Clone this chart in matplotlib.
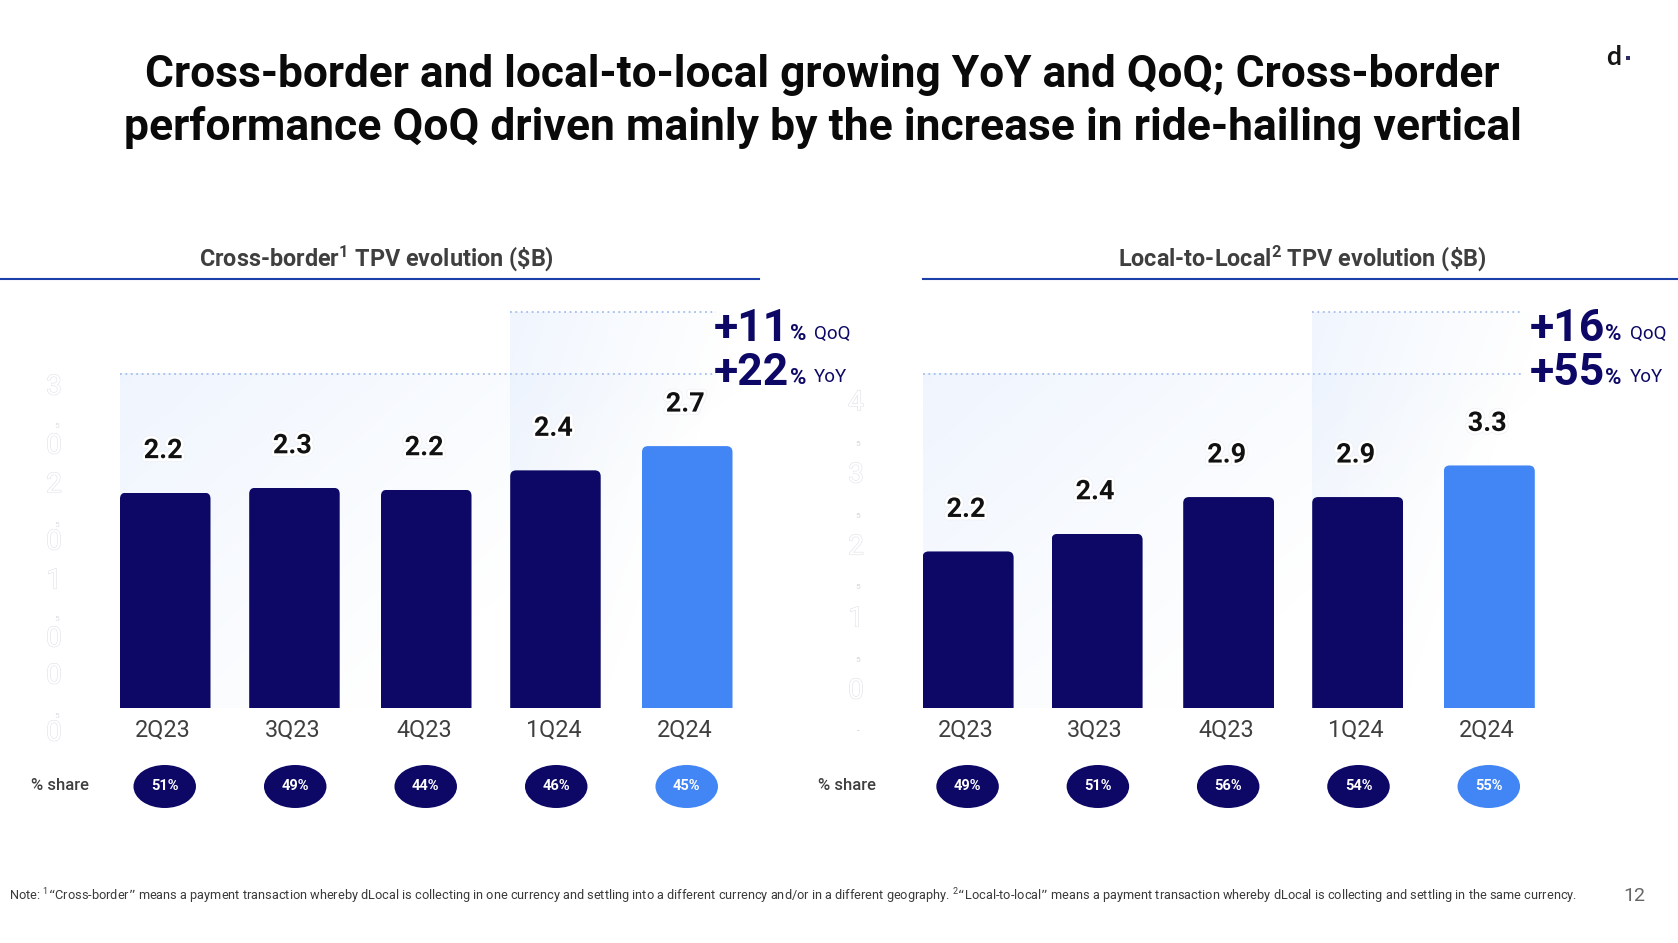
import numpy as np
import matplotlib
matplotlib.use("Agg")
import matplotlib.pyplot as plt
import matplotlib.patheffects as pe
from matplotlib.patches import Ellipse, Rectangle
from matplotlib.path import Path
from matplotlib.transforms import ScaledTranslation

W, H = 1678, 943
plt.rcParams['font.family'] = ['Roboto', 'DejaVu Sans']
plt.rcParams['mathtext.default'] = 'regular'

# ---------- data ----------
quarters = ["2Q23", "3Q23", "4Q23", "1Q24", "2Q24"]
cb_bar_values = [2.22, 2.27, 2.25, 2.45, 2.70]
cb_labels = ["2.2", "2.3", "2.2", "2.4", "2.7"]
cb_share = ["51%", "49%", "44%", "46%", "45%"]
ll_bar_values = [2.13, 2.37, 2.87, 2.87, 3.30]
ll_labels = ["2.2", "2.4", "2.9", "2.9", "3.3"]
ll_share = ["49%", "51%", "56%", "54%", "55%"]
cb_qoq, cb_yoy = "+11", "+22"
ll_qoq, ll_yoy = "+16", "+55"
title_lines = ["Cross-border and local-to-local growing YoY and QoQ; Cross-border",
               "performance QoQ driven mainly by the increase in ride-hailing vertical"]
note = ("Note: $^{1}$\u201cCross-border\u201d means a payment transaction whereby dLocal is collecting in one currency "
        "and settling into a different currency and/or in a different geography. $^{2}$\u201cLocal-to-local\u201d means a "
        "payment transaction whereby dLocal is collecting and settling in the same currency.")
ghost_left = ["3", "0", "2", "0", "1", "0", "0", "0"]
ghost_right = ["4", "3", "2", "1", "0"]

NAVY = "#0d0866"
BLUE = "#4285f4"
GREY = "#3f3f3f"
LINE = "#1c3fa8"
DOT = "#a5bdee"

fig = plt.figure(figsize=(W / 100, H / 100), dpi=100, facecolor="white")


def T(x, y, s, **kw):
    kw.setdefault("ha", "center")
    kw.setdefault("va", "center")
    return fig.text(x / W, 1 - y / H, s, **kw)


def make_panel(first_left, spacing, bar_px, px_per_unit, values, labels, shares,
               upper_left_idx, dotted_right_px):
    base, top = 708, 300
    L, R = first_left - 20, first_left + 640
    bar_w = bar_px / spacing
    c0 = first_left + bar_px / 2
    ax = fig.add_axes([L / W, 1 - base / H, (R - L) / W, (base - top) / H])
    ax.set_facecolor("none")
    xlim = ((L - c0) / spacing, (R - c0) / spacing)
    ylim = (0, (base - top) / px_per_unit)
    x = np.array([0, 0.99, 2, 2.99, 4])

    y_low = (base - 373.6) / px_per_unit
    y_high = (base - 312) / px_per_unit
    right_edge = x[-1] + bar_w / 2

    def grad(x0, x1, y1, strength):
        gx, gy = np.meshgrid(np.linspace(0, 1, 200), np.linspace(0, 1, 200))
        a = np.clip(1 - (0.95 * gx + 0.6 * gy), 0, 1) * strength
        img = np.zeros((200, 200, 4))
        img[..., :3] = matplotlib.colors.to_rgb("#cfe0fc")
        img[..., 3] = a
        ax.imshow(img, extent=(x0, x1, 0, y1), origin="upper", aspect="auto",
                  zorder=0, interpolation="bilinear")

    grad(-bar_w / 2, right_edge, y_low, 0.32)
    grad(x[upper_left_idx] - bar_w / 2, right_edge, y_high, 0.30)

    dotted_right = (dotted_right_px - c0) / spacing
    dot_style = dict(color=DOT, lw=1.3, linestyle=(0, (1, 2)), zorder=1)
    ax.plot([-bar_w / 2, dotted_right], [y_low, y_low], **dot_style)
    ax.plot([x[upper_left_idx] - bar_w / 2, dotted_right], [y_high, y_high], **dot_style)

    colors = [NAVY] * 4 + [BLUE]
    bars = ax.bar(x, values, width=bar_w, color=colors, zorder=2, linewidth=0)
    rx, ry = 6 / spacing, 6 / px_per_unit
    for b in bars:
        x0, w, h = b.get_x(), b.get_width(), b.get_height()
        verts = [(x0, 0), (x0, h - ry), (x0, h), (x0 + rx, h), (x0 + w - rx, h),
                 (x0 + w, h), (x0 + w, h - ry), (x0 + w, 0), (x0, 0)]
        codes = [Path.MOVETO, Path.LINETO, Path.CURVE3, Path.CURVE3, Path.LINETO,
                 Path.CURVE3, Path.CURVE3, Path.LINETO, Path.CLOSEPOLY]
        b.set_clip_path(Path(verts, codes), ax.transData)

    halo = [pe.Stroke(linewidth=5, foreground="#eef0f5"),
            pe.Stroke(linewidth=4, foreground="white"), pe.Normal()]
    for xi, v, s in zip(x, values, labels):
        ax.annotate(s, (xi, v), xytext=(-2, 42), textcoords="offset pixels",
                    ha="center", va="center", fontsize=19.5, color="#111111",
                    fontweight="bold", zorder=4, path_effects=halo,
                    annotation_clip=False)

    ax.set_xticks(x)
    ax.set_xticklabels(quarters, fontsize=16.8, color=GREY)
    ax.tick_params(axis="x", length=0, pad=7.5)
    shift = ScaledTranslation(-1.5 / 72, 0, fig.dpi_scale_trans)
    for lab in ax.get_xticklabels():
        lab.set_transform(lab.get_transform() + shift)
    ax.set_yticks([])
    for sp in ax.spines.values():
        sp.set_visible(False)
    ax.set_xlim(*xlim)
    ax.set_ylim(*ylim)

    sx = fig.add_axes([L / W, 1 - 820 / H, (R - L) / W, 70 / H])
    sx.axis("off")
    sx.set_xlim(*xlim)
    sx.set_ylim(820, 750)
    for i, s in enumerate(shares):
        sx.add_patch(Ellipse((i - 0.004, 786.5), 62.5 / spacing, 43, fc=colors[i], ec="none"))
        sx.text(i - 0.004, 786.5, s, color="white", fontsize=10.5, fontweight="bold",
                ha="center", va="center")
    return ax


make_panel(120.0, 130.5, 90.5, 97, cb_bar_values, cb_labels, cb_share, 3, 716)
make_panel(922.6, 130.3, 91, 73.5, ll_bar_values, ll_labels, ll_share, 3, 1521)

# title
T(822.5, 75, title_lines[0], fontsize=31.85, fontweight="bold", color="#0a0a0a")
T(823, 127.5, title_lines[1], fontsize=32, fontweight="bold", color="#0a0a0a")

# headers and rules
T(376, 258.5, "Cross-border$^{1}$ TPV evolution (\\$B)", fontsize=16.8, fontweight="bold", color=GREY)
T(1302, 258.5, "Local-to-Local$^{2}$ TPV evolution (\\$B)", fontsize=16.8, fontweight="bold", color=GREY)
fig.add_artist(plt.Line2D([0, 759 / W], [1 - 279 / H] * 2, color=LINE, lw=1.5))
fig.add_artist(plt.Line2D([922.6 / W, 1], [1 - 279 / H] * 2, color=LINE, lw=1.5))

# growth callouts
for x_big, x_pct, x_txt, y1, y2, a, b in [(714, 790, 814, 329, 373, cb_qoq, cb_yoy),
                                          (1530, 1605, 1630, 329, 373, ll_qoq, ll_yoy)]:
    T(x_big, y1, a, ha="left", fontsize=32, fontweight="bold", color=NAVY)
    T(x_big, y2, b, ha="left", fontsize=32, fontweight="bold", color=NAVY)
    T(x_pct, y1 + 4.5, "%", ha="left", fontsize=16, fontweight="bold", color=NAVY)
    T(x_pct, y2 + 4.5, "%", ha="left", fontsize=16, fontweight="bold", color=NAVY)
    T(x_txt, y1 + 4.5, "QoQ", ha="left", fontsize=13.5, color=NAVY)
    T(x_txt, y2 + 4.5, "YoY", ha="left", fontsize=13.5, color=NAVY)

# % share labels
T(60, 786, "% share", fontsize=12, fontweight="medium", color=GREY)
T(847, 786, "% share", fontsize=12, fontweight="medium", color=GREY)

# ghost axis residue
ghost_fx = [pe.Stroke(linewidth=0.8, foreground="#dfe1e6"), pe.Normal()]
for s, y in zip(ghost_left, [387, 446, 485, 542, 581, 639, 676, 733]):
    T(54, y, s, fontsize=20, color="white", path_effects=ghost_fx)
for y in [426, 525, 619, 716]:
    T(56.5, y, "5", fontsize=6, color="#dcdee3")
for s, y in zip(ghost_right, [403, 475, 547, 619, 691]):
    T(856, y, s, fontsize=20, color="white", path_effects=ghost_fx)
for y in [444, 516, 587, 660]:
    T(858, y, "5", fontsize=6, color="#d4d6db")
T(858, 731, "-", fontsize=7, color="#d4d6db")

# footer
T(9, 896, note, ha="left", fontsize=9.22, color="#3a3a3a")
T(1634, 896, "12", fontsize=14, color="#666666")

# logo
T(1614, 57, "d", fontsize=19, fontweight="bold", color="#161616", family=["Lato", "DejaVu Sans"])
fig.add_artist(Rectangle((1626 / W, 1 - 60 / H), 4 / W, 4 / H, fc="#2e2a66", ec="none",
                         transform=fig.transFigure))

fig.savefig("out.png", dpi=100, facecolor="white")
